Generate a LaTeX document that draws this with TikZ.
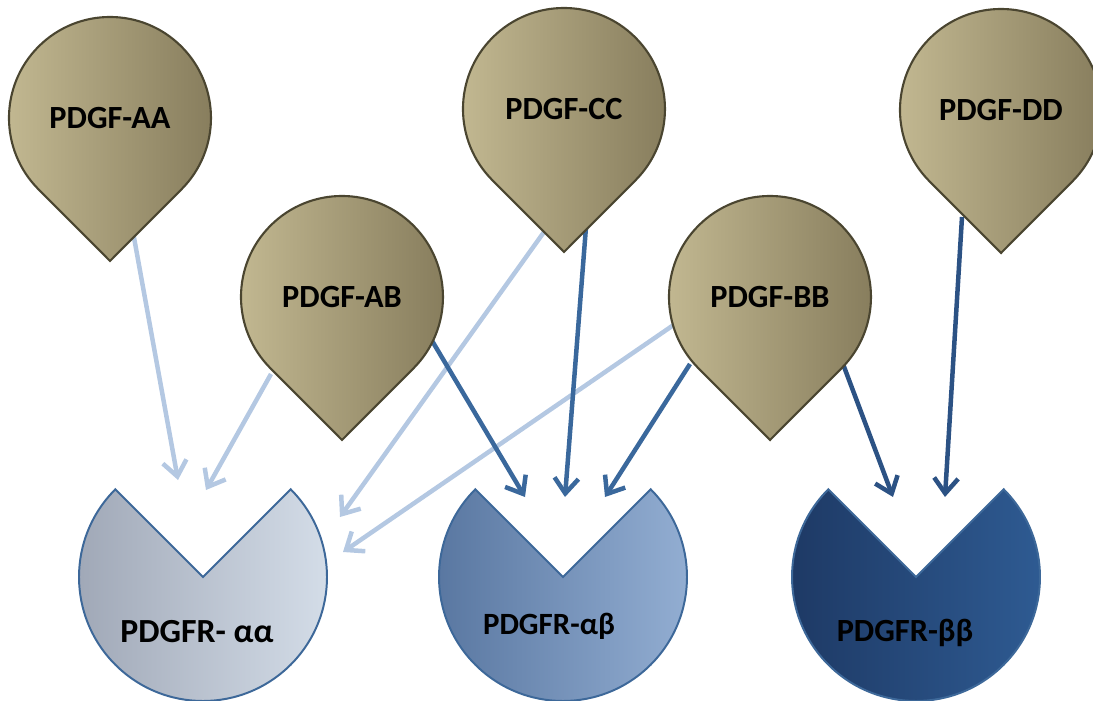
\documentclass[tikz,border=0pt]{standalone}
\usepackage{fontspec}
\setmainfont{Carlito}
\usetikzlibrary{arrows.meta}
\pgfdeclarelayer{background}
\pgfsetlayers{background,main}

\definecolor{dropL}{HTML}{C4BA93}
\definecolor{dropR}{HTML}{857B5B}
\definecolor{dropline}{HTML}{4A4530}
\definecolor{arrowL}{HTML}{B4C8E2}
\definecolor{arrowM}{HTML}{3A689C}
\definecolor{arrowD}{HTML}{2C5284}
\definecolor{raaL}{HTML}{9EA6B5}
\definecolor{raaR}{HTML}{D6DFEA}
\definecolor{rabL}{HTML}{57759F}
\definecolor{rabR}{HTML}{95B0D4}
\definecolor{rbbL}{HTML}{1D3863}
\definecolor{rbbR}{HTML}{2F5C94}
\definecolor{recline}{HTML}{3D6899}

\begin{document}
\begin{tikzpicture}[x=0.025cm,y=0.025cm]
    \tikzstyle{drop}=[draw=dropline,line width=1.5pt,left color=dropL,right color=dropR]
    \tikzstyle{ligand}=[font=\bfseries\fontsize{23}{27}\selectfont,inner sep=0pt]
    \tikzstyle{recep}=[draw=recline,line width=1.4pt]
    \tikzstyle{weak}=[draw=arrowL,line width=3.2pt,-{Straight Barb[length=3.8mm,width=6mm]}]
    \tikzstyle{strong}=[weak,draw=arrowM]
    \tikzstyle{deep}=[weak,draw=arrowD]
    \useasboundingbox (0,0) rectangle (1093,700);
    \clip (0,0) rectangle (1093,700);

    % ligands
    \foreach \name/\x/\y/\txt in {aa/110/582/PDGF-AA, ab/342/403/PDGF-AB, cc/564/591/PDGF-CC,
                                  bb/770/403/PDGF-BB, dd/1001/590/PDGF-DD} {
        \path[drop] (\x,\y) ++(0,-143) -- ++(71.4,71.6)
            arc[start angle=-45,end angle=225,radius=101] -- cycle;
        \node[ligand] (\name) at (\x,\y) {\txt};
    }

    % receptors
    \foreach \name/\x/\col in {raa/203/raa, rab/563/rab, rbb/916/rbb} {
        \path[recep,left color=\col L,right color=\col R] (\x,123) -- ++(45:124)
            arc[start angle=45,end angle=-225,radius=124] -- cycle;
        \coordinate (\name) at (\x,123);
    }
    \node[ligand,font=\bfseries\fontsize{24}{28}\selectfont] (taa) at (197,68) {PDGFR- αα};
    \node[ligand,font=\bfseries\fontsize{22}{26}\selectfont] (tab) at (549,74) {PDGFR-αβ};
    \node[ligand,font=\bfseries\fontsize{23}{27}\selectfont] (tbb) at (905,67) {PDGFR-ββ};

    \begin{pgfonlayer}{background}
        % to PDGFR-aa
        \draw[weak] ([shift={(23,-114)}]aa.center) -- ([shift={(-25,97)}]raa);
        \draw[weak] ([shift={(-71,-77)}]ab.center) -- ([shift={(3,87)}]raa);
        \draw[weak] ([shift={(-20,-123)}]cc.center) -- ([shift={(137,60)}]raa);
        \draw[weak] ([shift={(-95,-27)}]bb.center) -- ([shift={(140,25)}]raa);
        % to PDGFR-ab
        \draw[strong] ([shift={(89,-42)}]ab.center) -- ([shift={(-38,80)}]rab);
        \draw[strong] ([shift={(22,-118)}]cc.center) -- ([shift={(2,80)}]rab);
        \draw[strong] ([shift={(-80,-67)}]bb.center) -- ([shift={(42,80)}]rab);
        % to PDGFR-bb
        \draw[deep] ([shift={(73,-67)}]bb.center) -- ([shift={(-23,80)}]rbb);
        \draw[deep] ([shift={(-39,-107)}]dd.center) -- ([shift={(29,80)}]rbb);
    \end{pgfonlayer}
\end{tikzpicture}
\end{document}
